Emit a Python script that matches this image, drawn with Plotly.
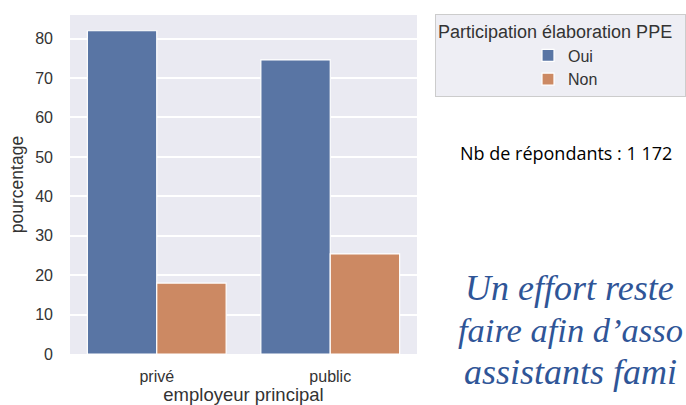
import plotly.graph_objects as go

categories = ["privé", "public"]
oui_values = [82.0, 74.6]
non_values = [18.0, 25.4]
series_names = ["Oui", "Non"]
y_ticks = [0, 10, 20, 30, 40, 50, 60, 70, 80]

W, H = 686, 405
L, R, T, B = 70, 269, 15, 51
pw = W - L - R
ph = H - T - B

def px_x(x):
    return (x - L) / pw

def px_y(y):
    return (H - B - y) / ph

fig = go.Figure()
fig.add_trace(go.Bar(x=categories, y=oui_values, name=series_names[0],
                     marker=dict(color="#5975a4", line=dict(color="white", width=1.2))))
fig.add_trace(go.Bar(x=categories, y=non_values, name=series_names[1],
                     marker=dict(color="#cc8963", line=dict(color="white", width=1.2))))

font_main = "Liberation Sans, Arial, sans-serif"
txt_col = "#333333"

fig.update_layout(
    width=W, height=H,
    margin=dict(l=L, r=R, t=T, b=B, autoexpand=False),
    paper_bgcolor="white",
    plot_bgcolor="#eaeaf2",
    barmode="group",
    bargap=0.2,
    bargroupgap=0.0,
    font=dict(family=font_main, size=16, color=txt_col),
    showlegend=True,
    legend=dict(
        x=px_x(435), y=px_y(14), xanchor="left", yanchor="top",
        bgcolor="#eeeef4", bordercolor="#cccccc", borderwidth=1,
        font=dict(family=font_main, size=16, color=txt_col),
        title=dict(text="Participation élaboration PPE&nbsp;&nbsp;",
                   font=dict(family=font_main, size=18, color=txt_col)),
        indentation=92,
        itemwidth=30,
    ),
    xaxis=dict(
        title=dict(text="employeur principal", standoff=9,
                   font=dict(family=font_main, size=18.5, color=txt_col)),
        showgrid=False, zeroline=False, showline=False, ticks="",
        tickfont=dict(family=font_main, size=16, color=txt_col),
        ticklabelstandoff=11,
    ),
    yaxis=dict(
        title=dict(text="pourcentage", standoff=7,
                   font=dict(family=font_main, size=17.5, color=txt_col)),
        range=[0, 86], tickvals=y_ticks,
        showgrid=True, gridcolor="white", gridwidth=1.5,
        zeroline=False, showline=False, ticks="",
        tickfont=dict(family=font_main, size=16, color=txt_col),
        ticklabelstandoff=16,
    ),
)

fig.add_annotation(text="Nb de répondants : 1 172", xref="paper", yref="paper",
                   x=px_x(566), y=px_y(153), xanchor="center", yanchor="middle",
                   showarrow=False,
                   font=dict(family="Open Sans, Noto Sans, sans-serif", size=18, color="black"))

italic_lines = ["<i>Un effort reste</i>", "<i>faire afin d’asso</i>", "<i>assistants fami</i>"]
line_pos = [(463, 288), (456, 330), (462, 372)]
line_sizes = [36, 34.5, 36]
for txt, (lx, ly), sz in zip(italic_lines, line_pos, line_sizes):
    fig.add_annotation(text=txt, xref="paper", yref="paper",
                       x=px_x(lx), y=px_y(ly), xanchor="left", yanchor="middle",
                       showarrow=False,
                       font=dict(family="Liberation Serif, DejaVu Serif, serif", size=sz, color="#2f5597"))

fig.write_html("out.html", post_script="document.body.style.margin='0';",
               config={"displayModeBar": False})
